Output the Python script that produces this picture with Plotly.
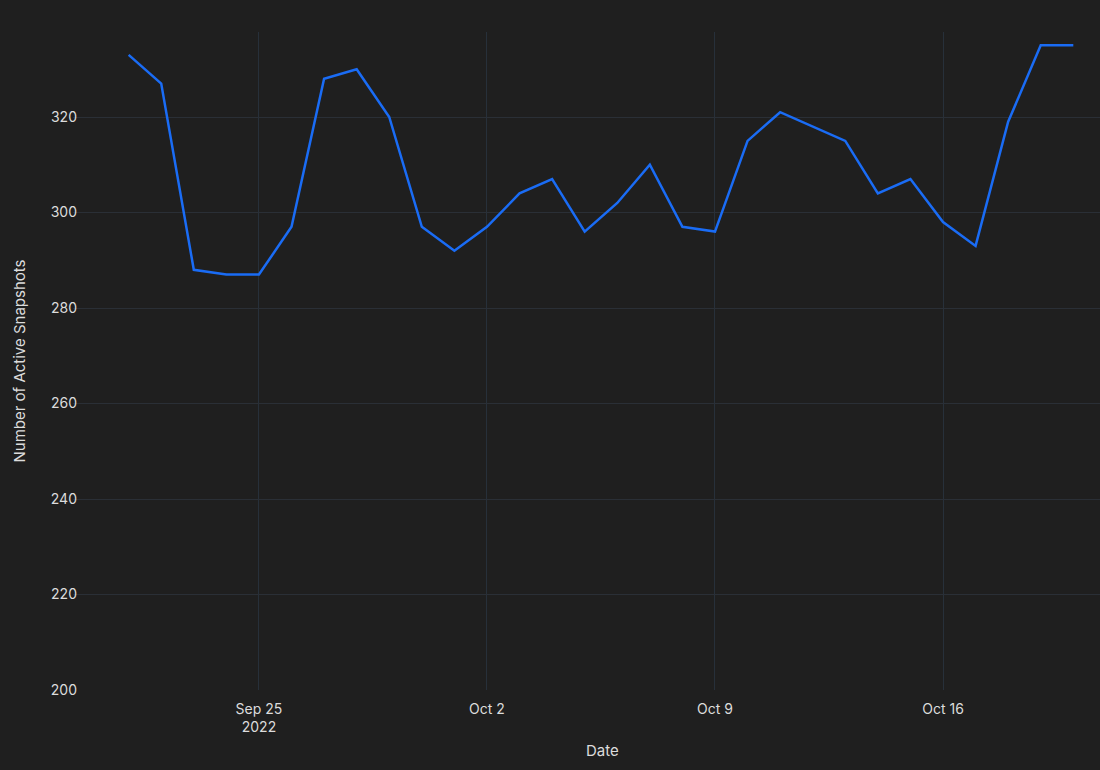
import plotly.graph_objects as go
import pandas as pd

dates = pd.date_range("2022-09-21", "2022-10-20", freq="D").strftime("%Y-%m-%d").tolist()
active_snapshots = [333, 327, 288, 287, 287, 297, 328, 330, 320, 297,
                    292, 297, 304, 307, 296, 302, 310, 297, 296, 315,
                    321, 318, 315, 304, 307, 298, 293, 319, 335, 335]

x_title = "Date"
y_title = "Number of Active Snapshots"

fig = go.Figure(go.Scatter(
    x=dates, y=active_snapshots, mode="lines",
    line=dict(color="#1a6cf5", width=2.5),
))

fig.update_layout(
    width=1100, height=770,
    paper_bgcolor="#1f1f1f", plot_bgcolor="#1f1f1f",
    font=dict(family="Inter, Roboto, sans-serif", size=14, color="#dcdcdc"),
    margin=dict(l=73, r=0, t=32, b=80),
    showlegend=False,
)
fig.add_annotation(text=x_title, xref="paper", yref="paper",
                   x=(602 - 73) / 1027, y=-0.075, yanchor="top",
                   showarrow=False, font=dict(size=15, color="#dcdcdc"))

fig.update_xaxes(
    range=["2022-09-19 07:00", "2022-10-20 19:40"],
    showgrid=True, gridcolor="#27303a", gridwidth=1,
    zeroline=False, showline=False, ticks="",
    ticklabelstandoff=9,
    tickvals=["2022-09-25", "2022-10-02", "2022-10-09", "2022-10-16"],
    ticktext=["Sep 25<br>2022", "Oct 2", "Oct 9", "Oct 16"],
    tickfont=dict(size=14, color="#dcdcdc"),
)
fig.update_yaxes(
    range=[200, 337.8],
    showgrid=True, gridcolor="#2a2f36", gridwidth=1,
    zeroline=False, showline=False, ticks="",
    ticklabelstandoff=-5,
    dtick=20, tickfont=dict(size=14, color="#dcdcdc"),
    title=dict(text=y_title, font=dict(size=15, color="#dcdcdc"), standoff=21),
)

fig.write_html("out.html", config={"displayModeBar": False},
               post_script="document.body.style.margin='0';document.body.style.background='#1f1f1f';")
